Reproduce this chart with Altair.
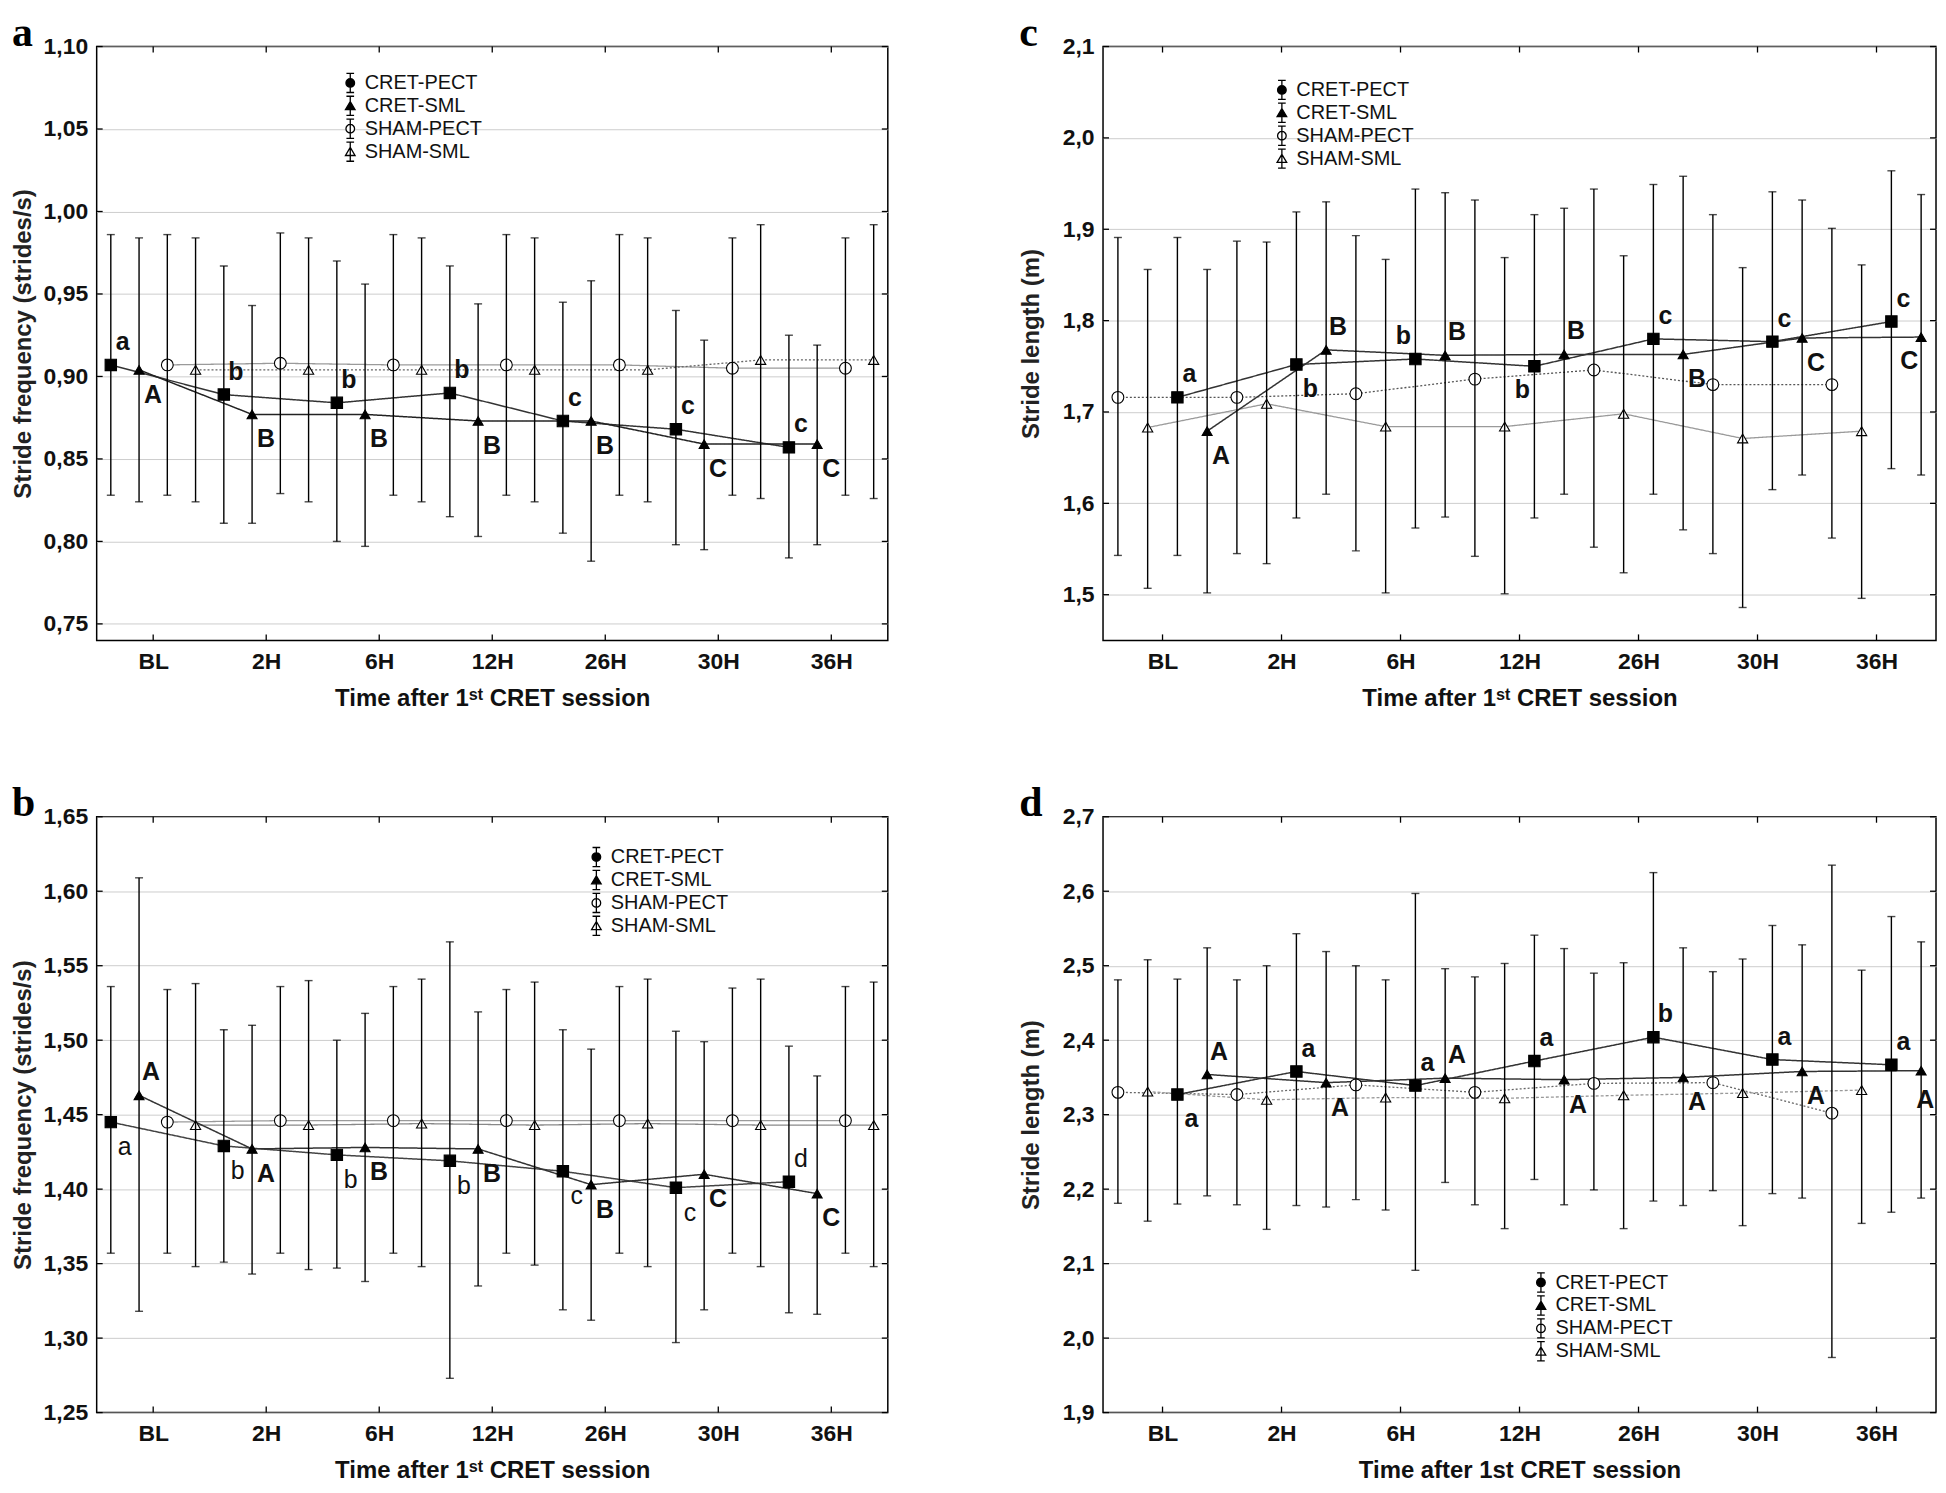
import altair as alt
import pandas as pd

categories = ["BL", "2H", "6H", "12H", "26H", "30H", "36H"]
series = ["CRET-PECT", "CRET-SML", "SHAM-PECT", "SHAM-SML"]

# ---------------- panel a ----------------
a_cp_mean = [0.907, 0.889, 0.884, 0.890, 0.873, 0.868, 0.857]
a_cp_lo = [0.828, 0.811, 0.800, 0.815, 0.805, 0.798, 0.790]
a_cp_hi = [0.986, 0.967, 0.970, 0.967, 0.945, 0.940, 0.925]
a_cs_mean = [0.904, 0.877, 0.877, 0.873, 0.873, 0.859, 0.859]
a_cs_lo = [0.824, 0.811, 0.797, 0.803, 0.788, 0.795, 0.798]
a_cs_hi = [0.984, 0.943, 0.956, 0.944, 0.958, 0.922, 0.919]
a_sp_mean = [0.907, 0.908, 0.907, 0.907, 0.907, 0.905, 0.905]
a_sp_lo = [0.828, 0.829, 0.828, 0.828, 0.828, 0.828, 0.828]
a_sp_hi = [0.986, 0.987, 0.986, 0.986, 0.986, 0.984, 0.984]
a_ss_mean = [0.904, 0.904, 0.904, 0.904, 0.904, 0.910, 0.910]
a_ss_lo = [0.824, 0.824, 0.824, 0.824, 0.824, 0.826, 0.826]
a_ss_hi = [0.984, 0.984, 0.984, 0.984, 0.984, 0.992, 0.992]
a_cp_letters = ["a", "b", "b", "b", "c", "c", "c"]
a_cp_place = ["ar", "ar", "ar", "ar", "ar", "ar", "ar"]
a_cs_letters = ["A", "B", "B", "B", "B", "C", "C"]
a_cs_place = ["br", "br", "br", "br", "br", "br", "br"]

# ---------------- panel b ----------------
b_cp_mean = [1.445, 1.429, 1.423, 1.419, 1.412, 1.401, 1.405]
b_cp_lo = [1.357, 1.351, 1.347, 1.273, 1.319, 1.297, 1.317]
b_cp_hi = [1.536, 1.507, 1.500, 1.566, 1.507, 1.506, 1.496]
b_cs_mean = [1.463, 1.427, 1.428, 1.427, 1.403, 1.410, 1.397]
b_cs_lo = [1.318, 1.343, 1.338, 1.335, 1.312, 1.319, 1.316]
b_cs_hi = [1.609, 1.510, 1.518, 1.519, 1.494, 1.499, 1.476]
b_sp_mean = [1.445, 1.446, 1.446, 1.446, 1.446, 1.446, 1.446]
b_sp_lo = [1.357, 1.357, 1.357, 1.357, 1.357, 1.357, 1.357]
b_sp_hi = [1.534, 1.536, 1.536, 1.534, 1.536, 1.535, 1.536]
b_ss_mean = [1.443, 1.443, 1.444, 1.443, 1.444, 1.443, 1.443]
b_ss_lo = [1.348, 1.346, 1.348, 1.349, 1.348, 1.348, 1.348]
b_ss_hi = [1.538, 1.540, 1.541, 1.539, 1.541, 1.541, 1.539]
b_cp_letters = ["a", "b", "b", "b", "c", "c", "d"]
b_cp_place = ["br", "br", "br", "br", "br", "br", "ar"]
b_cs_letters = ["A", "A", "B", "B", "B", "C", "C"]
b_cs_place = ["ar", "br", "br", "br", "br", "br", "br"]

# ---------------- panel c ----------------
c_cp_mean = [1.716, 1.752, 1.758, 1.750, 1.780, 1.777, 1.799]
c_cp_lo = [1.543, 1.584, 1.573, 1.584, 1.610, 1.615, 1.638]
c_cp_hi = [1.891, 1.919, 1.944, 1.916, 1.949, 1.941, 1.964]
c_cs_mean = [1.679, 1.768, 1.762, 1.763, 1.763, 1.781, 1.782]
c_cs_lo = [1.502, 1.610, 1.585, 1.610, 1.571, 1.631, 1.631]
c_cs_hi = [1.856, 1.930, 1.940, 1.923, 1.958, 1.932, 1.938]
c_sp_mean = [1.716, 1.716, 1.720, 1.736, 1.746, 1.730, 1.730]
c_sp_lo = [1.543, 1.545, 1.548, 1.542, 1.552, 1.545, 1.562]
c_sp_hi = [1.891, 1.887, 1.893, 1.932, 1.944, 1.916, 1.901]
c_ss_mean = [1.683, 1.709, 1.684, 1.684, 1.698, 1.671, 1.679]
c_ss_lo = [1.507, 1.534, 1.502, 1.501, 1.524, 1.486, 1.496]
c_ss_hi = [1.856, 1.886, 1.867, 1.869, 1.871, 1.858, 1.861]
c_cp_letters = ["a", "b", "b", "b", "c", "c", "c"]
c_cp_place = ["ar", "br", "al", "bl", "ar", "ar", "ar"]
c_cs_letters = ["A", "B", "B", "B", "B", "C", "C"]
c_cs_place = ["br", "ar", "ar", "ar", "br", "br", "bl"]

# ---------------- panel d ----------------
d_cp_mean = [2.327, 2.358, 2.339, 2.372, 2.404, 2.374, 2.367]
d_cp_lo = [2.180, 2.178, 2.091, 2.213, 2.184, 2.194, 2.169]
d_cp_hi = [2.482, 2.543, 2.597, 2.541, 2.625, 2.554, 2.566]
d_cs_mean = [2.354, 2.343, 2.349, 2.347, 2.350, 2.358, 2.359]
d_cs_lo = [2.191, 2.176, 2.209, 2.179, 2.178, 2.188, 2.188]
d_cs_hi = [2.524, 2.519, 2.496, 2.523, 2.524, 2.528, 2.532]
d_sp_mean = [2.330, 2.327, 2.340, 2.330, 2.342, 2.343, 2.302]
d_sp_lo = [2.181, 2.179, 2.186, 2.179, 2.199, 2.198, 1.974]
d_sp_hi = [2.481, 2.481, 2.500, 2.485, 2.490, 2.492, 2.635]
d_ss_mean = [2.331, 2.320, 2.323, 2.322, 2.326, 2.329, 2.333]
d_ss_lo = [2.157, 2.146, 2.172, 2.147, 2.147, 2.151, 2.154]
d_ss_hi = [2.508, 2.500, 2.481, 2.503, 2.504, 2.509, 2.494]
d_cp_letters = ["a", "a", "a", "a", "b", "a", "a"]
d_cp_place = ["br", "ar", "ar", "ar", "ar", "ar", "ar"]
d_cs_letters = ["A", "A", "A", "A", "A", "A", "A"]
d_cs_place = ["ar", "br", "ar", "br", "br", "br", "b"]

a_ticks = [0.75, 0.80, 0.85, 0.90, 0.95, 1.00, 1.05, 1.10]
b_ticks = [1.25, 1.30, 1.35, 1.40, 1.45, 1.50, 1.55, 1.60, 1.65]
c_ticks = [1.5, 1.6, 1.7, 1.8, 1.9, 2.0, 2.1]
d_ticks = [1.9, 2.0, 2.1, 2.2, 2.3, 2.4, 2.5, 2.6, 2.7]

order_cret_first = ["CRET-PECT", "CRET-SML", "SHAM-PECT", "SHAM-SML"]
order_sham_first = ["SHAM-PECT", "SHAM-SML", "CRET-PECT", "CRET-SML"]

FONT = "Liberation Sans, Arial, Helvetica, sans-serif"
SERIF = "Liberation Serif, Times New Roman, serif"
XEXPR = "[" + ",".join("'%s'" % c for c in categories) + "][datum.value]"

PLACE_OFFSETS = {"ar": (12, -23), "br": (14, 25), "al": (-12, -23), "bl": (-12, 24), "b": (4, 29)}

CAPS = "M-0.4,-1H0.4M0,-1V1M-0.4,1H0.4"
CIRC = "M0.45,0A0.45,0.45,0,1,1,-0.45,0A0.45,0.45,0,1,1,0.45,0Z"
TRI = "M0,-0.45L0.5,0.4H-0.5Z"
LEGEND_PATHS = [CAPS + CIRC, CAPS + TRI, CAPS + CIRC, CAPS + TRI]


def make_df(vals, order, letters, places):
    rows = []
    for s in series:
        k = order.index(s)
        off = (k - 1.5) * 0.25
        m, lo, hi = vals[s]
        let = letters.get(s, [""] * 7)
        pl = places.get(s, [""] * 7)
        for i, c in enumerate(categories):
            rows.append(dict(series=s, cat=c, pos=i + off, mean=m[i], lo=lo[i], hi=hi[i],
                             letter=let[i], place=pl[i]))
    return pd.DataFrame(rows)


def build_panel(tag, df, ydom, yvals, ydec, ytitle, xtitle, width, height, yext, ytp,
                line_style, leg_x, leg_y, leg_pad, low_weight):
    xscale = alt.Scale(domain=[-0.5, 6.5], nice=False, zero=False)
    yscale = alt.Scale(domain=ydom, nice=False, zero=False)
    x_axis = alt.X("pos:Q", scale=xscale, axis=alt.Axis(
        values=list(range(7)), labelExpr=XEXPR, title=xtitle, grid=False, domain=False,
        ticks=False, labelPadding=10, titlePadding=13, labelFont=FONT, labelFontSize=23,
        labelFontWeight="bold", labelColor="#111", titleFont=FONT, titleFontSize=24,
        titleFontWeight="bold", titleColor="#111"))
    y_axis = alt.Y("mean:Q", scale=yscale, axis=alt.Axis(
        values=yvals, labelExpr="replace(format(datum.value, '.%df'), '.', ',')" % ydec,
        title=ytitle, grid=True, gridColor="#cdcdcd", gridWidth=1, domain=False, ticks=False,
        labelPadding=9, minExtent=yext, maxExtent=yext, titlePadding=ytp, labelFont=FONT,
        labelFontSize=23, labelFontWeight="bold", labelColor="#111", titleFont=FONT,
        titleFontSize=24, titleFontWeight="bold", titleColor="#222"))
    xs = alt.X("pos:Q", scale=xscale)
    ys = alt.Y("mean:Q", scale=yscale)

    base = alt.Chart(df)
    layers = []
    first = True
    for s in ["SHAM-PECT", "SHAM-SML", "CRET-PECT", "CRET-SML"]:
        col, dash, sw = line_style[s]
        ln = base.transform_filter(alt.datum.series == s).mark_line(
            color=col, strokeDash=dash, strokeWidth=sw)
        if first:
            ln = ln.encode(x=x_axis, y=y_axis)
            first = False
        else:
            ln = ln.encode(x=xs, y=ys)
        layers.append(ln)
    # inward frame ticks
    xt = alt.Chart(pd.DataFrame({"pos": list(range(7))}))
    yt = alt.Chart(pd.DataFrame({"mean": yvals}))
    layers.append(xt.mark_rule(color="black", strokeWidth=1.3).encode(
        x=xs, y=alt.value(height), y2=alt.value(height - 6)))
    layers.append(xt.mark_rule(color="black", strokeWidth=1.3).encode(
        x=xs, y=alt.value(0), y2=alt.value(6)))
    layers.append(yt.mark_rule(color="black", strokeWidth=1.3).encode(
        y=ys, x=alt.value(0), x2=alt.value(6)))
    layers.append(yt.mark_rule(color="black", strokeWidth=1.3).encode(
        y=ys, x=alt.value(width), x2=alt.value(width - 6)))
    marker = {
        "CRET-PECT": dict(shape="square", size=130, fill="black"),
        "CRET-SML": dict(shape="triangle-up", size=100, fill="black"),
        "SHAM-PECT": dict(shape="circle", size=140, fill="white"),
        "SHAM-SML": dict(shape="triangle-up", size=105, fill="white"),
    }
    for s in ["SHAM-PECT", "SHAM-SML", "CRET-PECT", "CRET-SML"]:
        mk = marker[s]
        layers.append(base.transform_filter(alt.datum.series == s).mark_point(
            shape=mk["shape"], size=mk["size"], fill=mk["fill"], filled=True,
            stroke="black", strokeWidth=1.1, opacity=1).encode(x=xs, y=ys))
    layers.append(base.mark_rule(color="black", strokeWidth=1.4).encode(
        x=xs, y=alt.Y("lo:Q", scale=yscale), y2="hi:Q"))
    for fld in ["lo", "hi"]:
        layers.append(base.mark_tick(orient="horizontal", size=8, thickness=1.4,
                                     color="black").encode(
            x=xs, y=alt.Y("%s:Q" % fld, scale=yscale)))
    for s, weight in [("CRET-PECT", low_weight), ("CRET-SML", "bold")]:
        for code, (dx, dy) in PLACE_OFFSETS.items():
            sub = df[(df.series == s) & (df.place == code)]
            if len(sub) == 0:
                continue
            layers.append(base.transform_filter(
                (alt.datum.series == s) & (alt.datum.place == code)).mark_text(
                font=FONT, fontSize=25, fontWeight=weight, color="#111", dx=dx, dy=dy,
                align="center", baseline="middle").encode(x=xs, y=ys, text="letter:N"))
    leg_df = pd.DataFrame({"lg": series, "pos": [0.0] * 4, "mean": [ydom[0]] * 4})
    legend = alt.Legend(title=None, orient="none", legendX=leg_x, legendY=leg_y,
                        labelFont=FONT, labelFontSize=20, labelColor="#111",
                        labelFontWeight="normal", symbolSize=370, symbolStrokeWidth=1.3,
                        symbolOpacity=1, rowPadding=leg_pad,
                        labelOffset=4, padding=0, labelLimit=400)
    layers.append(alt.Chart(leg_df).mark_point(filled=False, opacity=0, size=370,
                                               strokeWidth=1.3).encode(
        x=xs, y=ys,
        shape=alt.Shape("lg:N", scale=alt.Scale(domain=series, range=LEGEND_PATHS),
                        legend=legend),
        fill=alt.Fill("lg:N", scale=alt.Scale(domain=series,
                                              range=["black", "black", "white", "white"]),
                      legend=legend),
        stroke=alt.Stroke("lg:N", scale=alt.Scale(domain=series,
                                                  range=["black", "black", "black", "black"]),
                          legend=legend)))
    return alt.layer(*layers).properties(
        width=width, height=height,
        title=alt.TitleParams(tag, anchor="start", frame="bounds", font=SERIF, fontSize=42,
                              fontWeight="bold", color="black", offset=-19))


def vals(cp, cs, sp, ss):
    return {"CRET-PECT": cp, "CRET-SML": cs, "SHAM-PECT": sp, "SHAM-SML": ss}


df_a = make_df(vals((a_cp_mean, a_cp_lo, a_cp_hi), (a_cs_mean, a_cs_lo, a_cs_hi),
                    (a_sp_mean, a_sp_lo, a_sp_hi), (a_ss_mean, a_ss_lo, a_ss_hi)),
               order_cret_first, {"CRET-PECT": a_cp_letters, "CRET-SML": a_cs_letters},
               {"CRET-PECT": a_cp_place, "CRET-SML": a_cs_place})
df_b = make_df(vals((b_cp_mean, b_cp_lo, b_cp_hi), (b_cs_mean, b_cs_lo, b_cs_hi),
                    (b_sp_mean, b_sp_lo, b_sp_hi), (b_ss_mean, b_ss_lo, b_ss_hi)),
               order_cret_first, {"CRET-PECT": b_cp_letters, "CRET-SML": b_cs_letters},
               {"CRET-PECT": b_cp_place, "CRET-SML": b_cs_place})
df_c = make_df(vals((c_cp_mean, c_cp_lo, c_cp_hi), (c_cs_mean, c_cs_lo, c_cs_hi),
                    (c_sp_mean, c_sp_lo, c_sp_hi), (c_ss_mean, c_ss_lo, c_ss_hi)),
               order_sham_first, {"CRET-PECT": c_cp_letters, "CRET-SML": c_cs_letters},
               {"CRET-PECT": c_cp_place, "CRET-SML": c_cs_place})
df_d = make_df(vals((d_cp_mean, d_cp_lo, d_cp_hi), (d_cs_mean, d_cs_lo, d_cs_hi),
                    (d_sp_mean, d_sp_lo, d_sp_hi), (d_ss_mean, d_ss_lo, d_ss_hi)),
               order_sham_first, {"CRET-PECT": d_cp_letters, "CRET-SML": d_cs_letters},
               {"CRET-PECT": d_cp_place, "CRET-SML": d_cs_place})

SOLID = [1, 0]
DOT = [2, 2]
style_a = {"CRET-PECT": ("#333", SOLID, 1.5), "CRET-SML": ("#222", SOLID, 1.5),
           "SHAM-PECT": ("#9a9a9a", SOLID, 1.3), "SHAM-SML": ("#666", DOT, 1.3)}
style_b = {"CRET-PECT": ("#444", SOLID, 1.5), "CRET-SML": ("#333", SOLID, 1.5),
           "SHAM-PECT": ("#9a9a9a", SOLID, 1.3), "SHAM-SML": ("#888", SOLID, 1.3)}
style_c = {"CRET-PECT": ("#333", SOLID, 1.5), "CRET-SML": ("#333", SOLID, 1.5),
           "SHAM-PECT": ("#555", DOT, 1.3), "SHAM-SML": ("#9a9a9a", SOLID, 1.3)}
style_d = {"CRET-PECT": ("#333", SOLID, 1.5), "CRET-SML": ("#333", SOLID, 1.5),
           "SHAM-PECT": ("#666", DOT, 1.3), "SHAM-SML": ("#999", [3, 2], 1.3)}

XT1 = "Time after 1ˢᵗ CRET session"
XT2 = "Time after 1st CRET session"

pa = build_panel("a", df_a, [0.74, 1.10], a_ticks, 2, "Stride frequency (strides/s)", XT1,
                 794, 596, 53, 8, style_a, 244, 26, -3, "bold")
pb = build_panel("b", df_b, [1.25, 1.65], b_ticks, 2, "Stride frequency (strides/s)", XT1,
                 794, 598, 53, 8, style_b, 491, 30, -3, "normal")
pc = build_panel("c", df_c, [1.45, 2.10], c_ticks, 1, "Stride length (m)", XT1,
                 836, 596, 41, 19, style_c, 169, 33, -2, "bold")
pd_ = build_panel("d", df_d, [1.90, 2.70], d_ticks, 1, "Stride length (m)", XT2,
                  836, 598, 41, 19, style_d, 429, 457, -2, "bold")

top = alt.hconcat(pa, pc, spacing=129).resolve_scale(
    shape="independent", fill="independent", stroke="independent")
bottom = alt.hconcat(pb, pd_, spacing=129).resolve_scale(
    shape="independent", fill="independent", stroke="independent")
chart = alt.vconcat(top, bottom, spacing=70).resolve_scale(
    shape="independent", fill="independent", stroke="independent"
).properties(
    padding={"left": 3, "top": 0, "right": 0, "bottom": 0}
).configure_view(stroke="black", strokeWidth=1.5)

chart.save("out.html", embed_options={"renderer": "svg", "actions": False})
